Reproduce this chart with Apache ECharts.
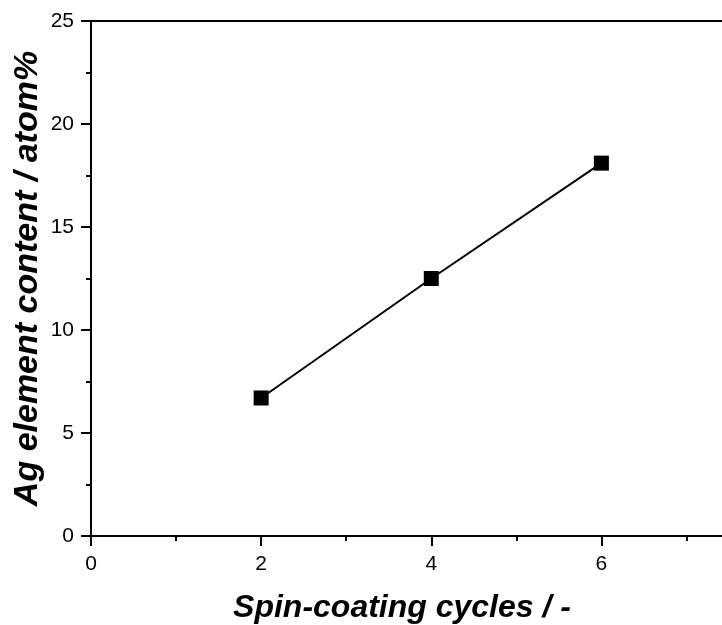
<!DOCTYPE html>
<html><head><meta charset="utf-8">
<script src="https://cdn.jsdelivr.net/npm/echarts@6/dist/echarts.min.js"></script>
<style>html,body{margin:0;padding:0;background:#fff}#c{width:722px;height:625px}</style>
</head><body><div id="c"></div>
<script>
var cycles = [2, 4, 6];
var agContent = [6.7, 12.5, 18.1];
var xTitle = 'Spin-coating cycles / -';
var yTitle = 'Ag element content / atom%';
var font = '"Liberation Sans", Arial, sans-serif';
var chart = echarts.init(document.getElementById('c'), null, {renderer: 'canvas'});
chart.setOption({
  animation: false,
  backgroundColor: '#fff',
  grid: {left: 91, right: -7, top: 21, bottom: 89, containLabel: false, outerBoundsMode: 'none'},
  xAxis: [{
    type: 'value', min: 0, max: 7.5, interval: 2, position: 'bottom',
    axisLine: {show: true, onZero: false, lineStyle: {color: '#000', width: 2}},
    axisTick: {show: true, inside: false, length: 10, lineStyle: {color: '#000', width: 2}},
    minorTick: {show: true, splitNumber: 2, length: 5, lineStyle: {color: '#000', width: 2}},
    axisLabel: {color: '#000', fontSize: 21, fontFamily: font, margin: 18, showMaxLabel: false,
      formatter: function(v){ return (v % 2 === 0) ? String(v) : ''; }},
    splitLine: {show: false},
    name: xTitle, nameLocation: 'middle', nameGap: 56,
    nameTextStyle: {color: '#000', fontSize: 32, fontWeight: 'bold', fontStyle: 'italic', fontFamily: font,
      padding: [0, 16, 0, 0]}
  }, {
    type: 'value', min: 0, max: 7.5, position: 'top',
    axisLine: {show: true, onZero: false, lineStyle: {color: '#000', width: 2}},
    axisTick: {show: false}, axisLabel: {show: false}, splitLine: {show: false}
  }],
  yAxis: [{
    type: 'value', min: 0, max: 25, interval: 5,
    axisLine: {show: true, onZero: false, lineStyle: {color: '#000', width: 2}},
    axisTick: {show: true, inside: false, length: 10, lineStyle: {color: '#000', width: 2}},
    minorTick: {show: true, splitNumber: 2, length: 5, lineStyle: {color: '#000', width: 2}},
    axisLabel: {color: '#000', fontSize: 21, fontFamily: font, margin: 17},
    splitLine: {show: false},
    name: yTitle, nameLocation: 'middle', nameGap: 46, nameRotate: 90, nameMoveOverlap: false,
    nameTextStyle: {color: '#000', fontSize: 34, fontWeight: 'bold', fontStyle: 'italic', fontFamily: font}
  }],
  series: [{
    type: 'line',
    data: cycles.map(function(c, i){ return [c, agContent[i]]; }),
    symbol: 'rect', symbolSize: 15,
    lineStyle: {color: '#000', width: 2},
    itemStyle: {color: '#000'},
    clip: false
  }]
});
</script></body></html>
